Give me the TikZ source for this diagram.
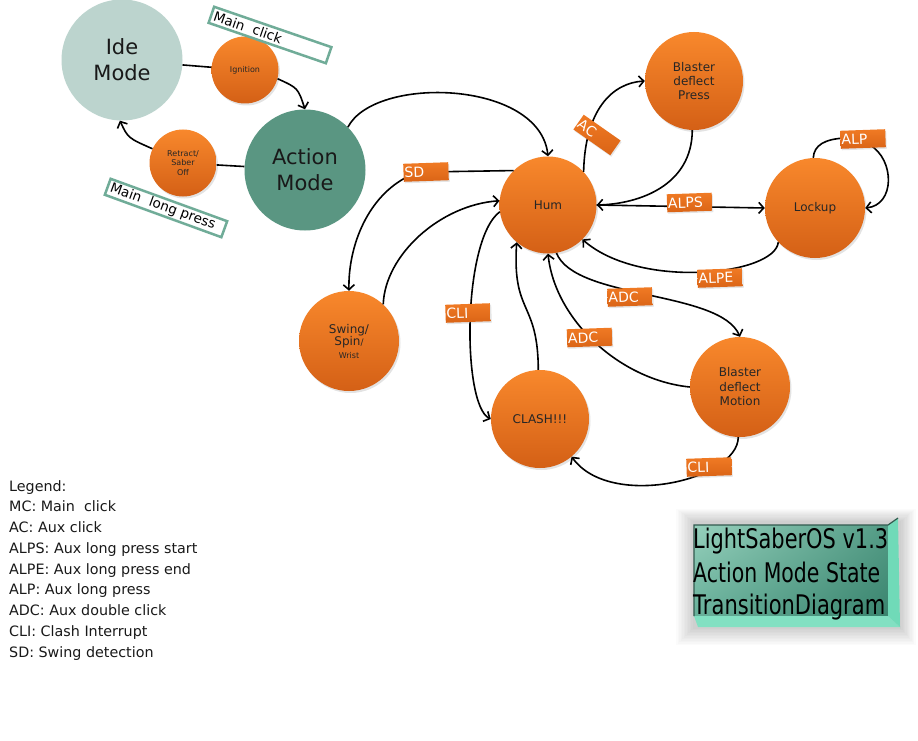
\documentclass[tikz,border=0pt]{standalone}
\usepackage{fontspec}
\setmainfont{DejaVu Sans}
\usetikzlibrary{arrows.meta,shadows,shadings}
\definecolor{orA}{RGB}{248,136,44}
\definecolor{orB}{RGB}{212,96,22}
\definecolor{lbA}{RGB}{240,122,36}
\definecolor{lbB}{RGB}{218,100,22}
\definecolor{ideC}{RGB}{188,212,206}
\definecolor{actC}{RGB}{90,150,130}
\definecolor{tagC}{RGB}{112,172,152}
\definecolor{plUL}{RGB}{150,208,188}
\definecolor{plUR}{RGB}{84,156,134}
\definecolor{plLL}{RGB}{104,176,154}
\definecolor{plLR}{RGB}{58,132,110}
\definecolor{bevC}{RGB}{112,218,184}
\definecolor{bevB}{RGB}{130,224,194}
\definecolor{bevD}{RGB}{50,90,78}
\definecolor{legC}{RGB}{25,25,25}
\tikzset{
  stnode/.style={circle, top color=orA, bottom color=orB, draw=none, text=black!85,
    font=\fontsize{12}{14}\selectfont, align=center, inner sep=0pt,
    drop shadow={opacity=0.22, shadow xshift=1.5pt, shadow yshift=-2pt}},
  smallnode/.style={stnode, minimum size=67pt, font=\fontsize{8}{9.5}\selectfont},
  bignode/.style={circle, draw=none, align=center, inner sep=0pt, minimum size=121pt,
    font=\fontsize{21}{26}\selectfont, text=black!90},
  lblbox/.style={top color=lbA, bottom color=lbB, text=white, font=\fontsize{14}{14}\selectfont,
    minimum height=18pt, inner xsep=1pt, inner ysep=0pt, text width=43pt, align=left,
    rotate=2, drop shadow={opacity=0.2, shadow xshift=1pt, shadow yshift=-1.5pt}},
  tagbox/.style={draw=tagC, line width=2.5pt, fill=white, font=\fontsize{13.5}{14}\selectfont,
    minimum height=17pt, inner xsep=3pt, inner ysep=1pt, text width=118pt, align=left},
  ln/.style={line width=1.6pt, black},
  arr/.style={line width=1.6pt, black, -{Straight Barb[length=5pt,width=11pt]}},
  legend/.style={anchor=base west, inner sep=0pt, text=legC, font=\fontsize{14.3}{14}\selectfont},
  plate/.style={anchor=base west, inner sep=0pt, font=\fontsize{27}{27}\selectfont, text=black}
}
\begin{document}
\begin{tikzpicture}[x=1pt,y=1pt]
\useasboundingbox (0,0) rectangle (918,-741);
\fill[white] (0,0) rectangle (918,-741);

% states
\node[bignode, fill=ideC] (ide) at (122,-60) {Ide\\Mode};
\node[bignode, fill=actC] (act) at (305,-170) {Action\\Mode};
\node[smallnode] (ign) at (245,-70) {Ignition};
\node[smallnode] (ret) at (183,-163) {Retract/\\Saber\\Off};
\node[stnode, minimum size=97pt] (hum) at (548,-205) {Hum};
\node[stnode, minimum size=98pt] (bp) at (694,-81) {Blaster\\deflect\\Press};
\node[stnode, minimum size=100pt] (lock) at (815,-208) {Lockup};
\node[stnode, minimum size=100pt, font=\fontsize{12}{12.5}\selectfont] (sw) at (349,-341)
  {Swing/\\Spin{\fontsize{9}{9}\selectfont/}\\{\fontsize{8}{10}\selectfont Wrist}};
\node[stnode, minimum size=98pt] (clash) at (540,-419) {CLASH!!!};
\node[stnode, minimum size=100pt, font=\fontsize{12}{14.5}\selectfont] (bm) at (740,-387) {Blaster\\deflect\\Motion};

% connectors
\draw[ln] (ide) -- (ign);
\draw[arr] (ign.-15) .. controls (298,-88) .. (act.north);
\draw[ln] (act) -- (ret);
\draw[arr] (ret.155) .. controls (128,-138) .. (ide.-92);
\draw[arr] (act.45) .. controls (375,-75) and (540,-80) .. (hum.north);
\draw[arr] (hum.43) .. controls (585,-110) and (612,-83) .. (bp.west);
\draw[arr] (bp.-92) .. controls (692,-185) and (640,-204) .. (hum.east);
\draw[arr] (hum.east) -- (lock.west);
\draw[arr] (lock.-137) .. controls (775,-275) and (640,-290) .. (hum.-45);
\draw[arr] (lock.92) .. controls (814,-145) and (825,-139) .. (845,-138) -- (870,-145)
  .. controls (895,-160) and (895,-205) .. (lock.east);
\draw[arr] (hum.135) -- (425,-172) -- (405,-178) .. controls (365,-200) and (348,-250) .. (sw.north);
\draw[arr] (sw.47) .. controls (385,-255) and (440,-205) .. (hum.175);
\draw[arr] (hum.188) .. controls (462,-240) and (462,-405) .. (clash.west);
\draw[arr] (clash.92) .. controls (538,-300) and (512,-315) .. (hum.-130);
\draw[arr] (bm.west) .. controls (620,-380) and (555,-320) .. (hum.south);
\draw[arr] (hum.-80) .. controls (575,-300) and (720,-290) .. (bm.north);
\draw[arr] (bm.-92) .. controls (738,-480) and (610,-510) .. (clash.-50);

% connector labels
\node[lblbox, rotate=-37] (lAC) at (597,-135) {AC};
\node[lblbox] (lALPS) at (689.5,-202.5) {ALPS};
\node[lblbox] (lALPE) at (720,-278) {ALPE};
\node[lblbox] (lALP) at (863,-139) {ALP};
\node[lblbox] (lSD) at (426,-172) {SD};
\node[lblbox] (lCLIa) at (468,-313) {CLI};
\node[lblbox] (lADCa) at (630,-297) {ADC};
\node[lblbox] (lADCb) at (589.5,-337.5) {ADC};
\node[lblbox] (lCLIb) at (709,-467) {CLI};

% button tags
\node[tagbox, rotate=-19] (tMC) at (270,-35) {Main\ \ click};
\node[tagbox, rotate=-20] (tML) at (166,-208) {Main\ \ long press};

% title plate: soft glow, face, bevels
\foreach \k in {1,...,12}
  \fill[black, opacity=0.016] ({694-1.5*\k},{-522+1.1*\k}) rectangle ({900+1.3*\k},{-627-1.5*\k});
\shade[upper left=plUL, upper right=plUR, lower left=plLL, lower right=plLR] (694,-525) rectangle (888,-616);
\fill[bevB] (694,-616) -- (888,-616) -- (900,-627) -- (698,-627) -- cycle;
\fill[bevC] (888,-525) -- (898,-518) -- (900,-627) -- (888,-616) -- cycle;
\draw[bevD, line width=1.2pt] (694,-616) -- (694,-525) -- (888,-525) -- (898,-518);
\node[plate] (t1) at (693,-548) {\resizebox{195pt}{\height}{LightSaberOS v1.3}};
\node[plate] (t2) at (693,-582) {\resizebox{187pt}{\height}{Action Mode State}};
\node[plate] (t3) at (693,-614) {\resizebox{192pt}{\height}{TransitionDiagram}};

% legend
\foreach \t [count=\i] in {Legend:, MC: Main\ \ click, AC: Aux click, ALPS: Aux long press start,
  ALPE: Aux long press end, ALP: Aux long press, ADC: Aux double click, CLI: Clash Interrupt, SD: Swing detection}
  \node[legend] (leg\i) at (9,{-491-20.75*(\i-1)}) {\t};
\end{tikzpicture}
\end{document}
